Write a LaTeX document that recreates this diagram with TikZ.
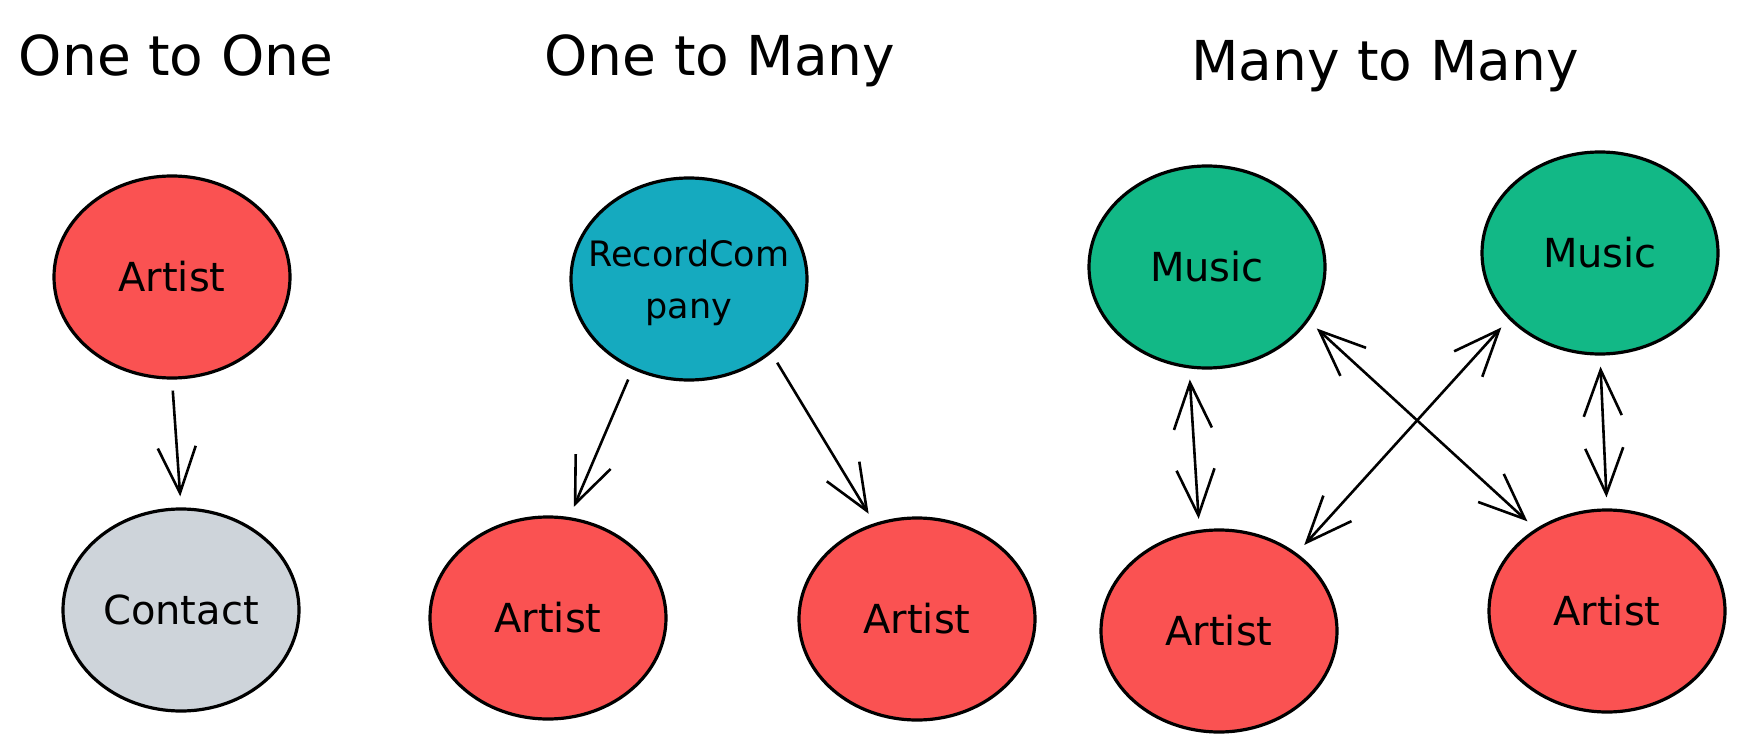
\documentclass[tikz,border=0pt]{standalone}
\usepackage{fontspec}
\setmainfont{DejaVu Sans}
\usepackage{xcolor}
\usetikzlibrary{shapes.geometric, arrows.meta}

\definecolor{artistred}{HTML}{FA5252}
\definecolor{contactgrey}{HTML}{CED4DA}
\definecolor{companyblue}{HTML}{15AABF}
\definecolor{musicgreen}{HTML}{12B886}

\tikzset{
    entity/.style={shape=ellipse, draw=black, line width=3.2pt, inner sep=0pt,
        minimum width=236pt, minimum height=202pt, font=\fontsize{40}{50}\selectfont},
    heading/.style={anchor=base, font=\fontsize{55}{66}\selectfont},
    barb/.tip={Straight Barb[length=46pt, width=38pt]},
    arr/.style={line width=2.6pt, -barb, shorten <=11pt, shorten >=11pt},
    biarr/.style={arr, barb-barb}
}

\begin{document}
\begin{tikzpicture}[x=1pt, y=-1pt]
            \useasboundingbox (0,0) rectangle (1743,749);

            \node[heading] (t1) at (176, 76) {One to One};
            \node[heading] (t2) at (720, 76) {One to Many};
            \node[heading] (t3) at (1385, 81) {Many to Many};

            % one to one
            \node[entity, fill=artistred] (a1) at (172, 277) {Artist};
            \node[entity, fill=contactgrey] (ct) at (181, 610) {Contact};

            % one to many
            \node[entity, fill=companyblue] (rc) at (689, 279) {};
            \node[align=center, font=\fontsize{35}{52}\selectfont] (rclabel) at (689, 283) {RecordCom\\pany};
            \node[entity, fill=artistred] (a2) at (548, 618) {Artist};
            \node[entity, fill=artistred] (a3) at (917, 619) {Artist};

            % many to many
            \node[entity, fill=musicgreen] (m1) at (1207, 267) {Music};
            \node[entity, fill=musicgreen] (m2) at (1600, 253) {Music};
            \node[entity, fill=artistred] (a4) at (1219, 631) {Artist};
            \node[entity, fill=artistred] (a5) at (1607, 611) {Artist};

            \path [arr] (a1.south) edge (ct.north);

            \path [arr] (rc.238) edge (a2.78);
            \path [arr] (rc.318) edge (a3.114);

            \path [biarr] (m1.260) edge (a4.101);
            \path [biarr] (m1.332) edge (a5.131);
            \path [biarr] (m2.216) edge (a4.45);
            \path [biarr] (m2.south) edge (a5.north);
\end{tikzpicture}
\end{document}
